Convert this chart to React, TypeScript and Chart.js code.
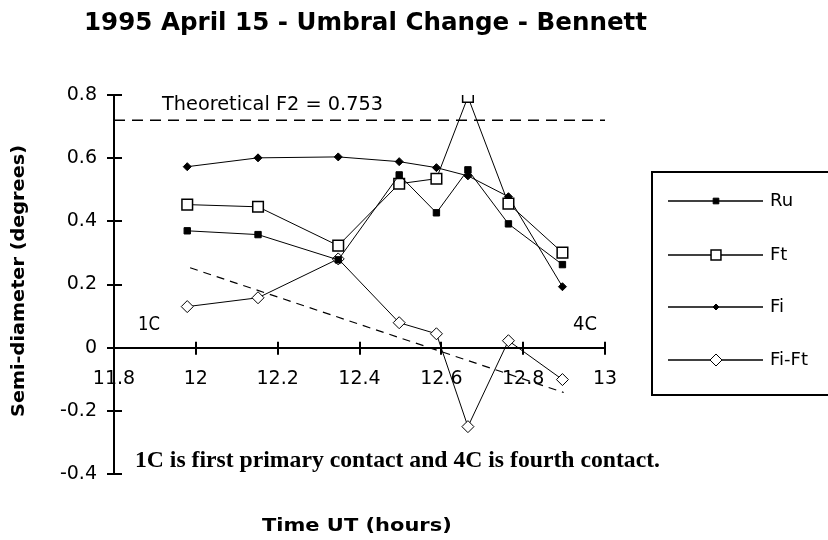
import React, { useEffect, useRef } from 'react';
import { Chart, registerables } from 'chart.js';

Chart.register(...registerables);

// ---- data ----
const timeUT = [11.979, 12.152, 12.348, 12.497, 12.588, 12.665, 12.764, 12.896];
const ru = [0.370, 0.358, 0.278, 0.547, 0.427, 0.563, 0.392, 0.263];
const ft = [0.453, 0.446, 0.323, 0.519, 0.535, 0.794, 0.456, 0.301];
const fi = [0.573, 0.601, 0.604, 0.589, 0.570, 0.544, 0.478, 0.193];
const fiFt = [0.130, 0.158, 0.281, 0.079, 0.044, -0.250, 0.022, -0.101];
const trendX = [11.986, 12.899];
const trendY = [0.253, -0.142];
const theoreticalX = [11.8, 13.0];
const theoreticalY = [0.72, 0.72];
const xTicks = [11.8, 12, 12.2, 12.4, 12.6, 12.8, 13];
const yTicks = [-0.4, -0.2, 0, 0.2, 0.4, 0.6, 0.8];
const seriesNames = ['Ru', 'Ft', 'Fi', 'Fi-Ft'];

const titleText = '1995 April 15 - Umbral Change - Bennett';
const xTitle = 'Time UT (hours)';
const yTitle = 'Semi-diameter (degrees)';
const theoreticalLabel = 'Theoretical F2 = 0.753';
const noteText = '1C is first primary contact and 4C is fourth contact.';

const pts = (xs: number[], ys: number[]) => xs.map((x, i) => ({ x, y: ys[i] }));
const fmt = (v: number) => {
  const r = Math.round(v * 10) / 10;
  return String(r);
};

type MarkerStyle = 'rect' | 'rectRot';
const markers: { style: MarkerStyle; r: number; lr: number; fill: string; bw: number }[] = [
  { style: 'rect', r: 4.5, lr: 4, fill: '#000', bw: 1 },
  { style: 'rect', r: 7.5, lr: 7, fill: '#fff', bw: 1.5 },
  { style: 'rectRot', r: 4, lr: 3, fill: '#000', bw: 1 },
  { style: 'rectRot', r: 6, lr: 6, fill: '#fff', bw: 1 },
];

function drawMarker(ctx: CanvasRenderingContext2D, style: MarkerStyle, x: number, y: number, r: number, fill: string, bw: number) {
  ctx.save();
  ctx.beginPath();
  if (style === 'rect') {
    const s = r * Math.SQRT2;
    ctx.rect(x - s / 2, y - s / 2, s, s);
  } else {
    ctx.moveTo(x, y - r);
    ctx.lineTo(x + r, y);
    ctx.lineTo(x, y + r);
    ctx.lineTo(x - r, y);
    ctx.closePath();
  }
  ctx.fillStyle = fill;
  ctx.fill();
  ctx.lineWidth = bw;
  ctx.strokeStyle = '#000';
  ctx.stroke();
  ctx.restore();
}

function drawFit(
  ctx: CanvasRenderingContext2D,
  text: string,
  font: string,
  x: number,
  y: number,
  opt: { align?: CanvasTextAlign; baseline?: CanvasTextBaseline; ref?: string; width?: number; rotate?: boolean } = {}
) {
  ctx.save();
  ctx.font = font;
  ctx.fillStyle = '#000';
  ctx.textBaseline = opt.baseline || 'alphabetic';
  ctx.textAlign = opt.align || 'left';
  const m = ctx.measureText(opt.ref ?? text).width;
  const sx = opt.width ? opt.width / m : 1;
  ctx.translate(x, y);
  if (opt.rotate) ctx.rotate(-Math.PI / 2);
  ctx.scale(sx, 1);
  ctx.fillText(text, 0, 0);
  ctx.restore();
}

const decorPlugin = {
  id: 'decor',
  beforeDraw(chart: any) {
    const ctx = chart.ctx as CanvasRenderingContext2D;
    ctx.save();
    ctx.fillStyle = '#fff';
    ctx.fillRect(0, 0, chart.width, chart.height);
    ctx.restore();
  },
  afterDraw(chart: any) {
    const ctx = chart.ctx as CanvasRenderingContext2D;
    const xs = chart.scales.x;
    const ys = chart.scales.y;
    const axisX = xs.left;
    const axisY = ys.getPixelForValue(0);

    // crossing tick marks
    ctx.save();
    ctx.strokeStyle = '#000';
    ctx.lineWidth = 2;
    ctx.beginPath();
    yTicks.forEach((v) => {
      const py = Math.round(ys.getPixelForValue(v));
      ctx.moveTo(axisX - 7, py);
      ctx.lineTo(axisX + 8, py);
    });
    xTicks.forEach((v) => {
      const px = Math.round(xs.getPixelForValue(v));
      ctx.moveTo(px, axisY - 6);
      ctx.lineTo(px, axisY + 7);
    });
    ctx.stroke();
    ctx.restore();

    // texts
    drawFit(ctx, titleText, 'bold 24px "DejaVu Sans"', 84, 30, { ref: '1995 April 15 - Umbral Change -', width: 444 });
    drawFit(ctx, theoreticalLabel, '19px "DejaVu Sans"', 162, 110, { width: 221 });
    drawFit(ctx, '1C', '19px "DejaVu Sans"', 138, 330, { width: 22 });
    drawFit(ctx, '4C', '19px "DejaVu Sans"', 573, 330, { width: 24 });
    drawFit(ctx, noteText, 'bold 23px "Liberation Serif"', 135, 467, { width: 525 });
    drawFit(ctx, xTitle, 'bold 17px "DejaVu Sans"', 262, 531, { ref: 'Time UT (h', width: 128 });
    drawFit(ctx, yTitle, 'bold 17px "DejaVu Sans"', 20, 281, { align: 'center', baseline: 'middle', width: 272, rotate: true });

    // legend
    ctx.save();
    ctx.strokeStyle = '#000';
    ctx.lineWidth = 2;
    ctx.strokeRect(652, 172, 200, 223);
    const rows = [201, 255, 307, 360];
    seriesNames.forEach((name, i) => {
      const y = rows[i];
      ctx.beginPath();
      ctx.lineWidth = 1.5;
      ctx.moveTo(668, y);
      ctx.lineTo(763, y);
      ctx.stroke();
      const mk = markers[i];
      drawMarker(ctx, mk.style, 716, y, mk.lr, mk.fill, mk.bw);
      drawFit(ctx, name, '18px "DejaVu Sans"', 770, y, { baseline: 'middle' });
    });
    ctx.restore();
  },
};

export default function App() {
  const ref = useRef<HTMLCanvasElement>(null);
  useEffect(() => {
    document.body.style.margin = '0';
    const seriesData = [ru, ft, fi, fiFt];
    const datasets: any[] = seriesNames.map((name, i) => ({
      label: name,
      data: pts(timeUT, seriesData[i]),
      borderColor: '#000',
      borderWidth: 1,
      pointStyle: markers[i].style,
      pointRadius: markers[i].r,
      pointBackgroundColor: markers[i].fill,
      pointBorderColor: '#000',
      pointBorderWidth: markers[i].bw,
      tension: 0,
      fill: false,
    }));
    datasets.push({
      label: 'trend',
      data: pts(trendX, trendY),
      borderColor: '#000',
      borderWidth: 1.2,
      borderDash: [8, 6],
      pointRadius: 0,
      fill: false,
    });
    datasets.push({
      label: 'theoretical',
      data: pts(theoreticalX, theoreticalY),
      borderColor: '#000',
      borderWidth: 1.5,
      borderDash: [11, 7],
      pointRadius: 0,
      fill: false,
    });

    const chart = new Chart(ref.current as HTMLCanvasElement, {
      type: 'line',
      data: { datasets },
      options: {
        responsive: false,
        animation: false,
        devicePixelRatio: 1,
        layout: { padding: { top: 95, bottom: 66, left: 0, right: 223 } },
        plugins: {
          legend: { display: false },
          tooltip: { enabled: false },
          title: { display: false },
        },
        scales: {
          x: {
            type: 'linear',
            position: { y: 0 } as any,
            min: 11.8,
            max: 13,
            afterBuildTicks: (s: any) => {
              s.ticks = xTicks.map((v) => ({ value: v }));
            },
            grid: { display: true, drawOnChartArea: false, drawTicks: false },
            border: { display: true, color: '#000', width: 2 },
            ticks: {
              color: '#000',
              font: { family: '"DejaVu Sans"', size: 19 },
              padding: 20,
              maxRotation: 0,
              autoSkip: false,
              callback: (v: any) => fmt(Number(v)),
            },
          },
          y: {
            type: 'linear',
            position: 'left',
            min: -0.4,
            max: 0.8,
            afterBuildTicks: (s: any) => {
              s.ticks = yTicks.map((v) => ({ value: v }));
            },
            afterFit: (s: any) => {
              s.width = 114;
            },
            grid: { display: true, drawOnChartArea: false, drawTicks: false },
            border: { display: true, color: '#000', width: 2 },
            ticks: {
              color: '#000',
              font: { family: '"DejaVu Sans"', size: 19 },
              padding: 17,
              autoSkip: false,
              callback: (v: any) => fmt(Number(v)),
            },
          },
        },
      } as any,
      plugins: [decorPlugin],
    });
    return () => chart.destroy();
  }, []);
  return (
    <div style={{ width: 828, height: 540, background: '#fff' }}>
      <canvas ref={ref} width={828} height={540} style={{ display: 'block', width: 828, height: 540 }} />
    </div>
  );
}
